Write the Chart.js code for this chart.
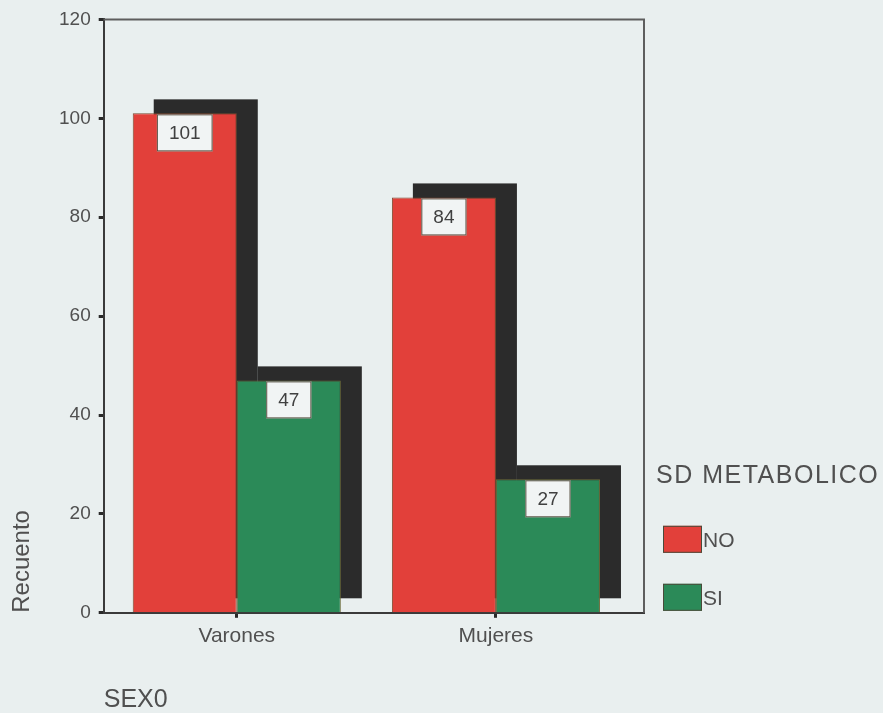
<!DOCTYPE html>
<html>
<head>
<meta charset="utf-8">
<title>SD METABOLICO por SEX0</title>
<script src="https://cdn.jsdelivr.net/npm/chart.js@4/dist/chart.umd.min.js"></script>
<style>
  html, body { margin: 0; padding: 0; background: #e9efef; }
  canvas { display: block; }
</style>
</head>
<body>
<canvas id="chart" width="883" height="713"></canvas>
<script>
// Counts of metabolic syndrome (SD METABOLICO) by sex
const categories = ['Varones', 'Mujeres'];
const seriesNames = ['NO', 'SI'];
const valuesNO = [101, 84];
const valuesSI = [47, 27];
const yTicks = [0, 20, 40, 60, 80, 100, 120];

const legendTitle = 'SD METABOLICO';
const xTitle = 'SEX0';
const yTitle = 'Recuento';

const colorNO = '#e2403a';
const colorSI = '#2b8a58';
const shadowColor = '#2b2b2b';
const textColor = '#505050';
const fontFamily = '"Liberation Sans", Arial, Helvetica, sans-serif';

const toPoints = (vals) => vals.map((v, i) => ({ x: i, y: v }));

// Solid drop shadow behind every bar, taken from the bar elements' own geometry
const SHADOW_DX = 21;
const SHADOW_DY = -14;
const barShadow = {
  id: 'barShadow',
  beforeDatasetsDraw(chart) {
    const ctx = chart.ctx;
    ctx.save();
    ctx.fillStyle = shadowColor;
    chart.data.datasets.forEach((ds, di) => {
      chart.getDatasetMeta(di).data.forEach((bar) => {
        const { x, y, base, width } = bar.getProps(['x', 'y', 'base', 'width'], true);
        ctx.fillRect(x - width / 2 + SHADOW_DX, y + SHADOW_DY, width, base - y);
      });
    });
    ctx.restore();
  }
};

// Value boxes sitting on top of each bar
const valueBoxes = {
  id: 'valueBoxes',
  afterDatasetsDraw(chart) {
    const ctx = chart.ctx;
    ctx.save();
    ctx.font = '19px ' + fontFamily;
    ctx.textAlign = 'center';
    ctx.textBaseline = 'middle';
    chart.data.datasets.forEach((ds, di) => {
      const meta = chart.getDatasetMeta(di);
      meta.data.forEach((bar, i) => {
        const label = String(ds.data[i].y);
        const w = ctx.measureText(label).width + 24;
        const h = 37;
        const x = bar.x - w / 2;
        const y = bar.y + 1;
        ctx.fillStyle = '#f1f4f4';
        ctx.fillRect(x, y, w, h);
        ctx.strokeStyle = '#5a5244';
        ctx.lineWidth = 1;
        ctx.strokeRect(x + 0.5, y + 0.5, w - 1, h - 1);
        ctx.fillStyle = '#404040';
        ctx.fillText(label, bar.x, y + h / 2 + 1);
      });
    });
    ctx.restore();
  }
};

// Background fill, plot frame and the side legend
const frameAndLegend = {
  id: 'frameAndLegend',
  beforeDraw(chart) {
    const ctx = chart.ctx;
    ctx.save();
    ctx.fillStyle = '#e9efef';
    ctx.fillRect(0, 0, chart.width, chart.height);
    ctx.restore();
  },
  afterDraw(chart) {
    const ctx = chart.ctx;
    const a = chart.chartArea;
    ctx.save();
    ctx.strokeStyle = '#5e5e5e';
    ctx.lineWidth = 2;
    ctx.beginPath();
    ctx.moveTo(a.left, a.top);
    ctx.lineTo(a.right, a.top);
    ctx.lineTo(a.right, a.bottom);
    ctx.stroke();

    const lx = a.right + 12;
    ctx.fillStyle = textColor;
    ctx.textAlign = 'left';
    ctx.textBaseline = 'alphabetic';
    ctx.font = '25px ' + fontFamily;
    ctx.letterSpacing = '1.5px';
    ctx.fillText(legendTitle, lx, a.bottom - 130);
    ctx.letterSpacing = '0px';

    ctx.font = '21px ' + fontFamily;
    ctx.textBaseline = 'middle';
    chart.data.datasets.forEach((ds, i) => {
      const top = a.bottom - 87 + i * 58;
      ctx.fillStyle = ds.backgroundColor;
      ctx.fillRect(lx + 7, top, 39, 27);
      ctx.strokeStyle = '#4a4a3a';
      ctx.lineWidth = 1;
      ctx.strokeRect(lx + 7.5, top + 0.5, 38, 26);
      ctx.fillStyle = textColor;
      ctx.fillText(ds.label, lx + 47, top + 15);
    });
    ctx.restore();
  }
};

new Chart(document.getElementById('chart'), {
  type: 'bar',
  data: {
    datasets: [
      {
        label: seriesNames[0],
        data: toPoints(valuesNO),
        backgroundColor: colorNO,
        borderColor: '#7a4a30',
        borderWidth: 1
      },
      {
        label: seriesNames[1],
        data: toPoints(valuesSI),
        backgroundColor: colorSI,
        borderColor: '#6a6a3a',
        borderWidth: 1
      }
    ]
  },
  options: {
    responsive: false,
    devicePixelRatio: 1,
    animation: false,
    categoryPercentage: 0.803,
    barPercentage: 1,
    layout: { padding: { top: 18, right: 239, bottom: 0, left: 0 } },
    plugins: {
      legend: { display: false },
      tooltip: { enabled: false }
    },
    scales: {
      x: {
        type: 'linear',
        offset: false,
        min: -0.5135,
        max: 1.5714,
        afterBuildTicks(axis) {
          axis.ticks = categories.map((_, i) => ({ value: i }));
        },
        ticks: {
          callback: (v) => categories[v],
          color: textColor,
          font: { family: fontFamily, size: 21 },
          padding: 6,
          maxRotation: 0
        },
        grid: {
          offset: false,
          drawOnChartArea: false,
          drawTicks: true,
          tickLength: 5,
          tickWidth: 3,
          tickColor: '#2a2a2a'
        },
        border: { display: true, color: '#3a3a3a', width: 2 },
        title: {
          display: true,
          text: xTitle,
          align: 'start',
          color: textColor,
          font: { family: fontFamily, size: 25, lineHeight: 1 },
          padding: { top: 33, bottom: 0 }
        }
      },
      y: {
        min: 0,
        max: 120,
        afterBuildTicks(axis) {
          axis.ticks = yTicks.map((v) => ({ value: v }));
        },
        ticks: {
          color: textColor,
          font: { family: fontFamily, size: 19 },
          padding: 8
        },
        grid: {
          drawOnChartArea: false,
          drawTicks: true,
          tickLength: 5,
          tickWidth: 3,
          tickColor: '#2a2a2a'
        },
        border: { display: true, color: '#3a3a3a', width: 2 },
        title: {
          display: true,
          text: yTitle,
          align: 'start',
          color: textColor,
          font: { family: fontFamily, size: 24, lineHeight: 1 },
          padding: { top: 10, bottom: 17 }
        }
      }
    }
  },
  plugins: [frameAndLegend, barShadow, valueBoxes]
});
</script>
</body>
</html>
